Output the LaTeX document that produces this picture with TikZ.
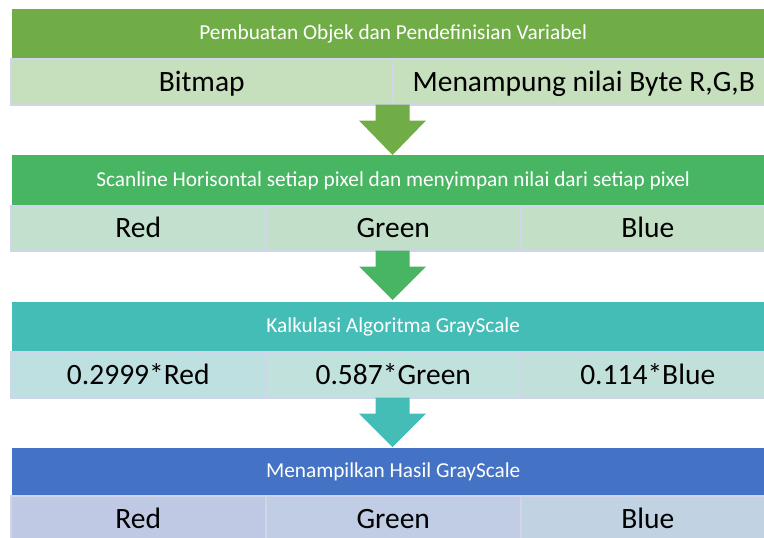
\documentclass[tikz,border=0pt]{standalone}
\usepackage{fontspec}
\setmainfont{Carlito}
\usetikzlibrary{calc}
\definecolor{gA}{HTML}{70AD47}
\definecolor{sA}{HTML}{C6DFBD}
\definecolor{gB}{HTML}{47B562}
\definecolor{sBa}{HTML}{C1E0CD}
\definecolor{sBb}{HTML}{C2DFC9}
\definecolor{sBc}{HTML}{C3DFC6}
\definecolor{gC}{HTML}{44BDB7}
\definecolor{sCa}{HTML}{BFE0E0}
\definecolor{sCb}{HTML}{C0E1DC}
\definecolor{sCc}{HTML}{C1E0D9}
\definecolor{gD}{HTML}{4472C4}
\definecolor{sDa}{HTML}{C0C9E4}
\definecolor{sDb}{HTML}{C1CDE4}
\definecolor{sDc}{HTML}{C1D3E3}
\definecolor{bord}{HTML}{D0D5EA}
\tikzset{
  hdr/.style={anchor=north west, minimum width=762pt, minimum height=#1, inner sep=0pt,
    text=white, font=\fontsize{21.3}{24}\selectfont, text height=12pt, text depth=0pt},
  cell/.style={anchor=north west, draw=bord, line width=1.5pt, minimum height=46pt,
    inner sep=0pt, text=black, font=\fontsize{29.5}{34}\selectfont, text height=19pt, text depth=0pt}
}
\newcommand{\blockarrowpath}[3]{% color, top coord, apex coord
  \fill[#1] (#2) ++(-17,0) -- ++(0,16) -- ++(-16.5,0) -- (#3) -- ($(#2)+(33.5,16)$) -- ++(-16.5,0) -- ++(0,-16) -- cycle;}
\begin{document}
\begin{tikzpicture}[x=1pt,y=-1pt]
\useasboundingbox (0,0) rectangle (764,538);
\clip (0,0) rectangle (764,538);
% Band 1
\node[hdr=49pt, fill=gA] (h1) at (12,9) {Pembuatan Objek dan Pendefinisian Variabel};
\node[cell, fill=sA, minimum width=382pt] (c1a) at (10,58) {Bitmap};
\node[cell, fill=sA, minimum width=382pt] (c1b) at (392,58) {Menampung nilai Byte R,G,B};
% Band 2
\node[hdr=50pt, fill=gB] (h2) at (12,155) {Scanline Horisontal setiap pixel dan menyimpan nilai dari setiap pixel};
\node[cell, fill=sBa, minimum width=255pt, minimum height=45pt] (c2a) at (10,205) {Red};
\node[cell, fill=sBb, minimum width=255pt, minimum height=45pt] (c2b) at (265,205) {Green};
\node[cell, fill=sBc, minimum width=254pt, minimum height=45pt] (c2c) at (520,205) {Blue};
% Band 3
\node[hdr=49pt, fill=gC] (h3) at (12,302) {Kalkulasi Algoritma GrayScale};
\node[cell, fill=sCa, minimum width=255pt] (c3a) at (10,351) {0.2999*Red};
\node[cell, fill=sCb, minimum width=255pt] (c3b) at (265,351) {0.587*Green};
\node[cell, fill=sCc, minimum width=254pt] (c3c) at (520,351) {0.114*Blue};
% Band 4
\node[hdr=47pt, fill=gD] (h4) at (12,448) {Menampilkan Hasil GrayScale};
\node[cell, fill=sDa, minimum width=255pt] (c4a) at (10,495) {Red};
\node[cell, fill=sDb, minimum width=255pt] (c4b) at (265,495) {Green};
\node[cell, fill=sDc, minimum width=254pt] (c4c) at (520,495) {Blue};
% Arrows
\coordinate (t1) at (392.5,104.5);
\coordinate (t2) at (392.5,250.5);
\coordinate (t3) at (392.5,397.5);
\blockarrowpath{gA}{t1}{t1 |- h2.north}
\blockarrowpath{gB}{t2}{$(t2 |- h3.north)+(0,-2)$}
\blockarrowpath{gC}{t3}{$(t3 |- h4.north)+(0,-1)$}
\end{tikzpicture}
\end{document}
